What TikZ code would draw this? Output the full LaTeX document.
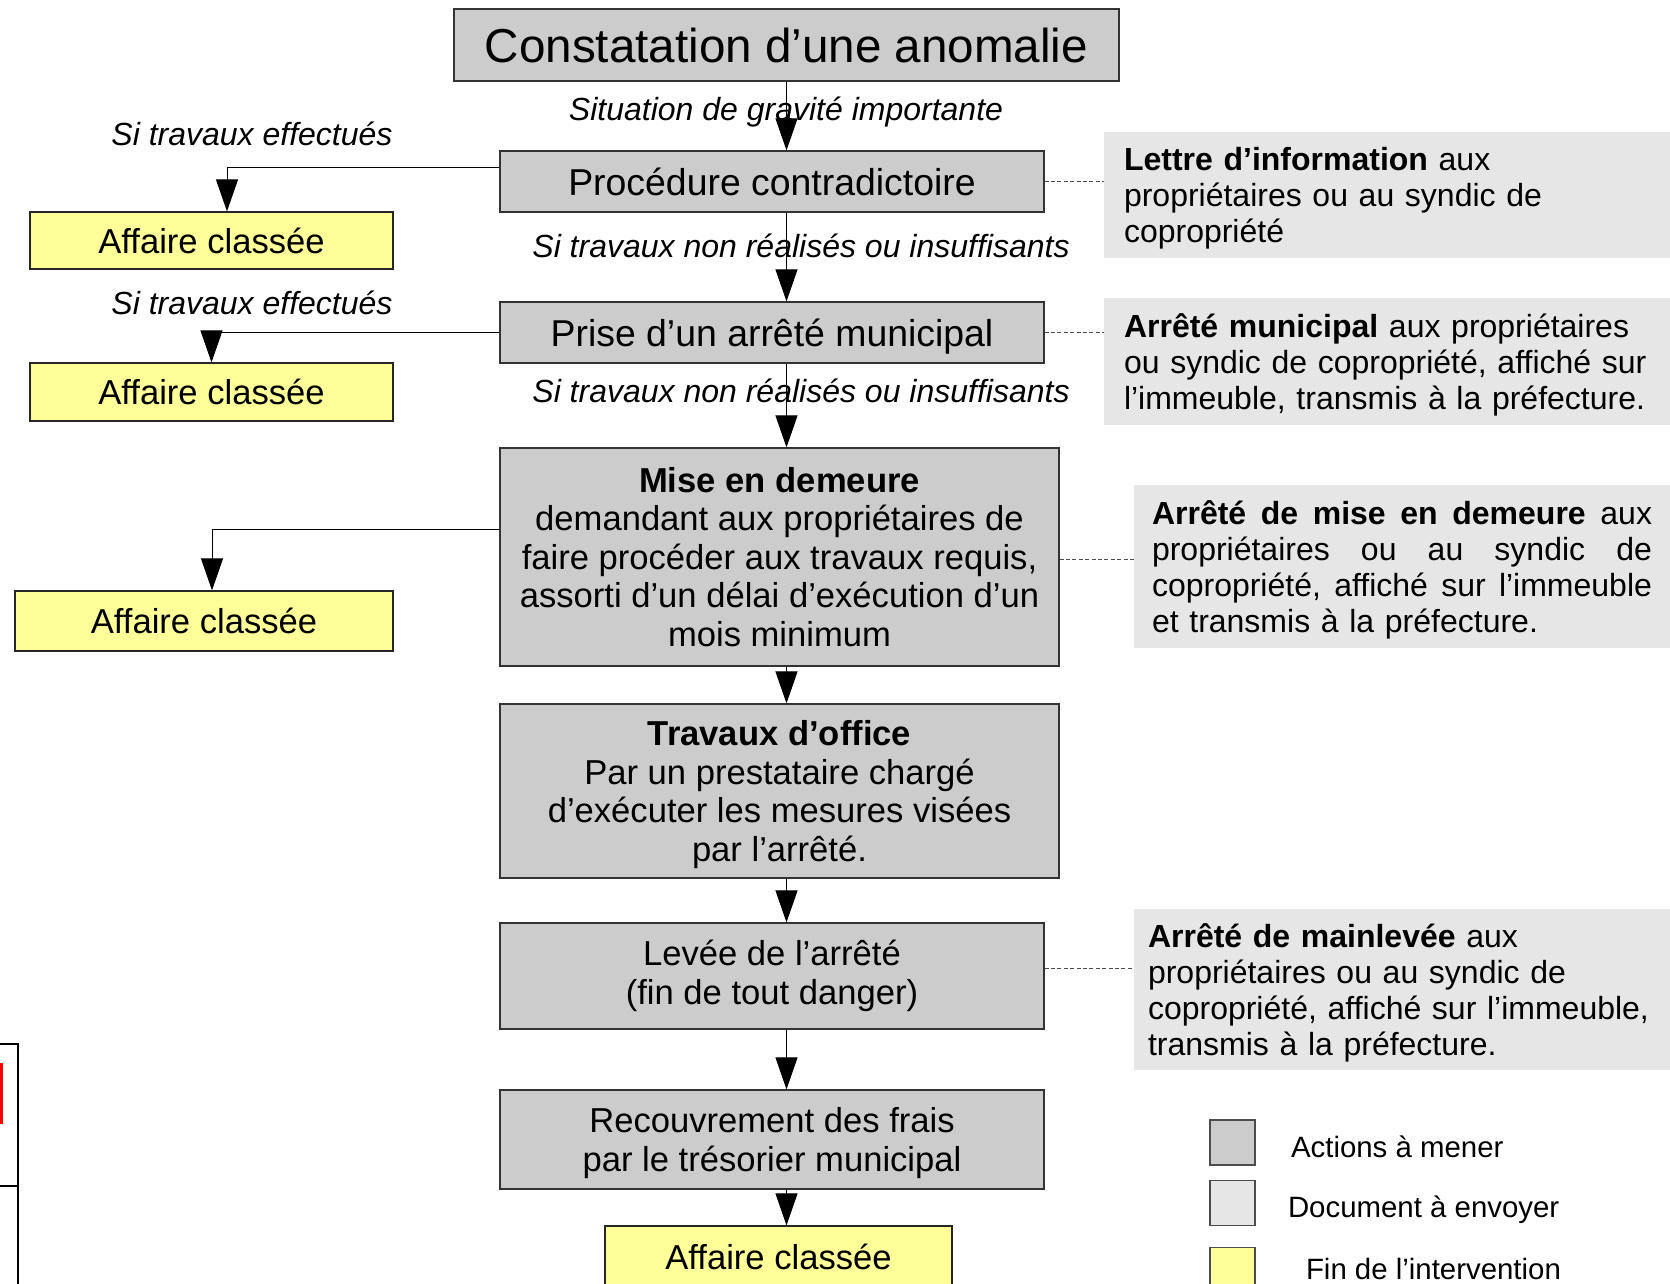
\documentclass[tikz,border=0pt]{standalone}
\usepackage{fontspec}
\setmainfont{Liberation Sans}
\usepackage{tikz}
\usetikzlibrary{arrows.meta,positioning}
\definecolor{actiongrey}{HTML}{CCCCCC}
\definecolor{docgrey}{HTML}{E6E6E6}
\definecolor{finyellow}{HTML}{FFFF99}

\begin{document}
\begin{tikzpicture}[x=0.5pt,y=0.5pt,>={Triangle[width=11pt,length=16pt]},
                    every node/.style={inner sep=0pt}]
  \tikzstyle{action}=[draw=black!80,line width=0.6pt,fill=actiongrey,align=center,
                      font=\fontsize{17.3}{19.3}\selectfont]
  \tikzstyle{bigaction}=[action,font=\fontsize{18.7}{21}\selectfont,text depth=0pt]
  \tikzstyle{fin}=[draw=black!85,line width=0.6pt,fill=finyellow,
                   font=\fontsize{17.3}{19.5}\selectfont]
  \tikzstyle{docu}=[fill=docgrey,align=left,font=\fontsize{16}{18}\selectfont]
  \tikzstyle{cond}=[font=\fontsize{16}{18}\selectfont\itshape]
  \tikzstyle{conn}=[line width=0.5pt,black]
  \tikzstyle{dotline}=[line width=0.5pt,black!70,dash pattern=on 2pt off 1.2pt]
  \tikzstyle{legbox}=[draw=black!70,line width=0.6pt,minimum size=22.5pt]
  \tikzstyle{legtext}=[font=\fontsize{14.7}{17}\selectfont]

  \clip (0,0) rectangle (1670,-1284);

  % main column
  \node[bigaction,minimum width=332.5pt,minimum height=36pt,
        font=\fontsize{23.8}{26}\selectfont] (A) at (786.5,-45) {Constatation d’une anomalie};
  \node[bigaction,minimum width=272pt,minimum height=30.5pt] (B) at (772,-181.5) {Procédure contradictoire};
  \node[bigaction,minimum width=272pt,minimum height=30.5pt] (C) at (772,-332.5) {Prise d’un arrêté municipal};
  \node[action,minimum width=279.5pt,minimum height=109pt] (D) at (779.5,-557)
       {\textbf{Mise en demeure}\\demandant aux propriétaires de\\faire procéder aux travaux requis,\\assorti d’un délai d’exécution d’un\\mois minimum};
  \node[action,minimum width=279.5pt,minimum height=87pt] (E) at (779.5,-791)
       {\rule{0pt}{16pt}\textbf{Travaux d’office}\\Par un prestataire chargé\\d’exécuter les mesures visées\\par l’arrêté.};
  \node[action,minimum width=272pt,minimum height=53pt] (F) at (772,-976)
       {Levée de l’arrêté\\(fin de tout danger)};
  \node[action,minimum width=272pt,minimum height=49.5pt] (G) at (772,-1139.5)
       {\rule{0pt}{16pt}Recouvrement des frais\\par le trésorier municipal};
  \node[fin,minimum width=173.5pt,minimum height=31pt] (H) at (778.5,-1257) {Affaire classée};

  % affaires classees a gauche
  \node[fin,minimum width=181.5pt,minimum height=28.5pt] (K1) at (211.5,-240.5) {Affaire classée};
  \node[fin,minimum width=181.5pt,minimum height=29pt] (K2) at (211.5,-392) {Affaire classée};
  \node[fin,minimum width=189pt,minimum height=30pt] (K3) at (204,-621) {Affaire classée};

  % documents
  \node[docu,minimum width=283pt,minimum height=63pt,text width=263pt] (L1) at (1387,-195)
       {\rule{0pt}{15pt}\textbf{Lettre d’information} aux\\propriétaires ou au syndic de\\copropriété};
  \node[docu,minimum width=283pt,minimum height=63.5pt,text width=263pt] (L2) at (1387,-361.5)
       {\rule{0pt}{15pt}\textbf{Arrêté municipal} aux propriétaires\\ou syndic de copropriété, affiché sur\\l’immeuble, transmis à la préfecture.};
  \node[docu,minimum width=268pt,minimum height=81.5pt,text width=250pt] (L3) at (1402,-566.5)
       {\rule{0pt}{15pt}\makebox[250pt][l]{\textbf{Arrêté\hfill de\hfill mise\hfill en\hfill demeure}\hfill aux}\\
        \makebox[250pt][l]{propriétaires\hfill ou\hfill au\hfill syndic\hfill de}\\
        \makebox[250pt][l]{copropriété,\hfill affiché\hfill sur\hfill l’immeuble}\\
        et transmis à la préfecture.};
  \node[docu,minimum width=268pt,minimum height=80.5pt,text width=254pt] (L4) at (1402,-989.5)
       {\rule{0pt}{15pt}\textbf{Arrêté de mainlevée} aux\\propriétaires ou au syndic de\\copropriété, affiché sur l’immeuble,\\transmis à la préfecture.};

  % conditions
  \node[cond] (c0) at (786,-112) {Situation de gravité importante};
  \node[cond] (c1) at (252,-134) {Si travaux effectués};
  \node[cond] (c2) at (801,-246) {Si travaux non réalisés ou insuffisants};
  \node[cond] (c3) at (252,-303) {Si travaux effectués};
  \node[cond] (c4) at (801,-391) {Si travaux non réalisés ou insuffisants};

  \path[conn,->] (A.south) edge (B.north -| A.south)
    (B.south -| A.south) edge (C.north -| A.south)
    (C.south -| A.south) edge (D.north -| A.south)
    (D.south -| A.south) edge (E.north -| A.south)
    (E.south -| A.south) edge (F.north -| A.south)
    (F.south -| A.south) edge (G.north -| A.south)
    (G.south -| A.south) edge (H.north -| A.south);

  \draw[conn,->] ([yshift=7.25pt]B.west) -| ([xshift=7.75pt]K1.north);
  \draw[conn,->] (C.west) -| (K2.north);
  \draw[conn,->] ([yshift=14pt]D.west) -| ([xshift=4pt]K3.north);

  \draw[dotline] (B.east) -- (B.east -| L1.west);
  \draw[dotline] (C.east) -- (C.east -| L2.west);
  \draw[dotline] ([yshift=-1pt]D.east) -- ([yshift=-1pt]D.east -| L3.west);
  \draw[dotline] ([yshift=4pt]F.east) -- ([yshift=4pt]F.east -| L4.west);

  % legende
  \node[legbox,fill=actiongrey] (S1) at (1232.5,-1142.5) {};
  \node[legbox,fill=docgrey] (S2) at (1232.5,-1203) {};
  \node[legbox,fill=finyellow] (S3) at (1232.5,-1270) {};
  \node[legtext,right=17.5pt of S1,yshift=-2pt] {Actions à mener};
  \node[legtext,right=16pt of S2,yshift=-3.5pt] {Document à envoyer};
  \node[legtext,right=25pt of S3,yshift=0.5pt] {Fin de l’intervention};

  % bord de page voisine
  \draw[line width=1pt] (0,-1044) -- (18,-1044) -- (18,-1290);
  \draw[line width=1pt] (0,-1186) -- (18,-1186);
  \fill[red] (0,-1063) rectangle (3,-1124);
\end{tikzpicture}
\end{document}
